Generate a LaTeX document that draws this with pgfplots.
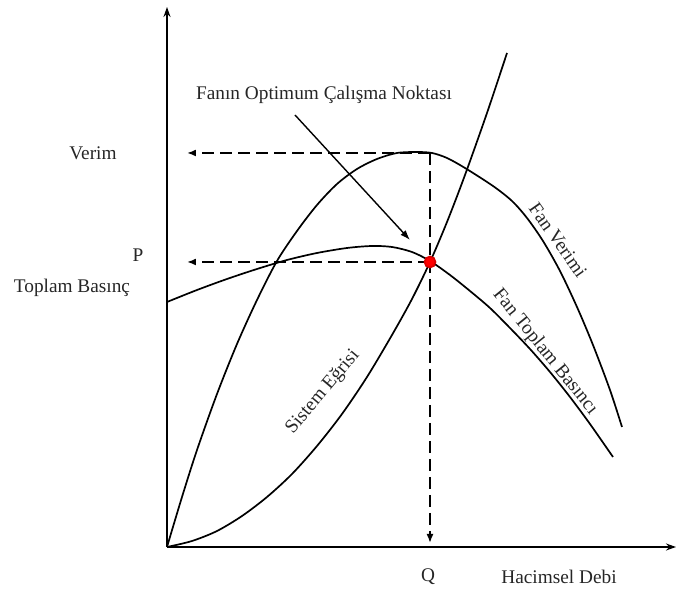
\documentclass[border=0pt]{standalone}
\usepackage{fontspec}
\setmainfont{Liberation Serif}
\usepackage{pgfplots}
\pgfplotsset{compat=1.18}
\usetikzlibrary{arrows.meta}

\begin{document}
\begin{tikzpicture}[
    lbl/.style={font=\fontsize{19.3}{22}\selectfont, text=black!85},
]
\begin{axis}[
    x=1pt, y=1pt,
    xmin=0, xmax=509,
    ymin=0, ymax=540,
    axis lines=left,
    axis line style={line width=1.8pt, -{Stealth[length=10pt,width=7pt]}},
    xtick=\empty, ytick=\empty,
    clip=false,
    every axis plot/.append style={line width=1.7pt},
]
% page extent
\path (axis cs:-167,-44) rectangle (axis cs:511,547);

% fan verimi
\addplot[black, smooth, tension=0.5] coordinates {
    (0,0) (15,50) (30,97) (50,153) (70,203) (90,247) (110,286) (130,316)
    (150,342) (170,363) (190,378) (210,388) (230,394) (250,395) (265,394)
    (280,389) (298,379) (326,361) (345,346) (360,329) (376,306) (393,276)
    (410,240) (426,202) (443,157) (455,120)
};
% fan toplam basinci
\addplot[black, smooth, tension=0.5] coordinates {
    (0,245) (30,257) (60,268) (90,278) (120,287) (150,294) (180,299)
    (205,301) (225,300) (245,295) (263,286) (283,272) (303,256) (323,239)
    (343,219) (363,198) (383,175) (403,150) (423,123) (446,90)
};
% sistem egrisi
\addplot[black, smooth, tension=0.5] coordinates {
    (0,0) (25,6) (50,16) (75,31) (100,50) (125,73) (150,101) (175,133)
    (200,170) (225,212) (245,248) (263,285) (280,325) (298,372) (320,434)
    (340,494)
};

% kesikli gosterge cizgileri
\addplot[black, dash pattern=on 12pt off 6pt, -{Latex[length=9pt,width=7pt]}]
    coordinates {(263,394) (20,394)};
\addplot[black, dash pattern=on 12pt off 6pt, -{Latex[length=9pt,width=7pt]}]
    coordinates {(263,285) (20,285)};
\addplot[black, dash pattern=on 12pt off 6pt, -{Latex[length=9pt,width=7pt]}]
    coordinates {(263,394) (263,4)};

% ok
\addplot[black, line width=1.4pt, -{Latex[length=10pt,width=7pt]}]
    coordinates {(128,432) (243,307)};

% calisma noktasi
\addplot[only marks, mark=*, mark size=5.5pt, red, mark options={draw=red!85!black}]
    coordinates {(263,285)};

\node[lbl] at (axis cs:157,452) {Fanın Optimum Çalışma Noktası};
\node[lbl] at (axis cs:-74,394) {Verim};
\node[lbl] at (axis cs:-29,292) {P};
\node[lbl] at (axis cs:-95,259) {Toplam Basınç};
\node[lbl] at (axis cs:261,-30) {Q};
\node[lbl] at (axis cs:392,-30) {Hacimsel Debi};
\node[lbl, rotate=-55] at (axis cs:391,307) {Fan Verimi};
\node[lbl, rotate=-51] at (axis cs:378,195) {Fan Toplam Basıncı};
\node[lbl, rotate=50] at (axis cs:156,155) {Sistem Eğrisi};
\end{axis}
\end{tikzpicture}
\end{document}
